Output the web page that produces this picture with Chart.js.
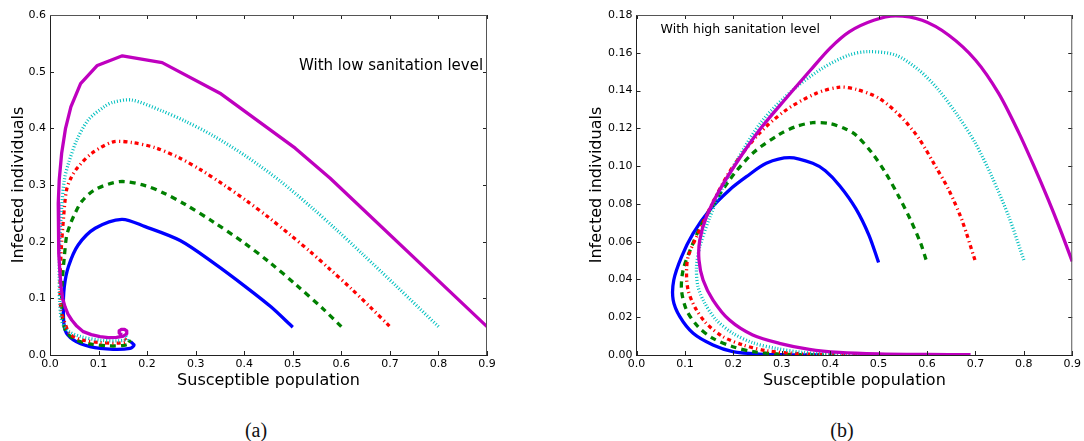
<!DOCTYPE html>
<html>
<head>
<meta charset="utf-8">
<script src="https://cdn.jsdelivr.net/npm/chart.js@4.4.1/dist/chart.umd.min.js"></script>
<style>
  body { margin: 0; background: #fff; width: 1084px; height: 441px; overflow: hidden; position: relative; }
  .box { position: absolute; top: 0; height: 390px; }
  .cap { position: absolute; top: 418px; font: 20px/24px "Liberation Serif", serif; color: #111; transform: translateX(-50%); }
</style>
</head>
<body>
<div class="box" style="left:0;width:500px"><canvas id="lowChart"></canvas></div>
<div class="box" style="left:540px;width:544px"><canvas id="highChart"></canvas></div>
<div class="cap" style="left:256px">(a)</div>
<div class="cap" style="left:842px">(b)</div>
<script>
var xTicks = [0, 0.1, 0.2, 0.3, 0.4, 0.5, 0.6, 0.7, 0.8, 0.9];
var lowYTicks = [0, 0.1, 0.2, 0.3, 0.4, 0.5, 0.6];
var highYTicks = [0, 0.02, 0.04, 0.06, 0.08, 0.10, 0.12, 0.14, 0.16, 0.18];

// (a) low sanitation level: [susceptible, infected], starting from S0 = 0.5 ... 0.9
var lowS05 = [[0.5,0.049],[0.455,0.085],[0.405,0.119],[0.336,0.163],[0.268,0.202],[0.196,0.2265],[0.148,0.2395],
  [0.093,0.2236],[0.058,0.194],[0.038,0.156],[0.0295,0.1206],[0.0275,0.0794],[0.031,0.044],[0.048,0.0265],
  [0.0824,0.0147],[0.13,0.010],[0.165,0.0118],[0.173,0.0176],[0.166,0.0235]];
var lowS06 = [[0.6,0.05],[0.563,0.081],[0.508,0.123],[0.453,0.163],[0.398,0.199],[0.336,0.235],[0.278,0.266],
  [0.236,0.285],[0.196,0.299],[0.144,0.306],[0.093,0.292],[0.065,0.2706],[0.0515,0.25],[0.041,0.229],[0.034,0.209],
  [0.0295,0.173],[0.0254,0.132],[0.024,0.091],[0.026,0.062],[0.034,0.04],[0.052,0.027],[0.085,0.019],
  [0.124,0.016],[0.152,0.017],[0.166,0.021],[0.162,0.026]];
var lowS07 = [[0.699,0.051],[0.659,0.085],[0.618,0.119],[0.577,0.151],[0.535,0.183],[0.494,0.2125],[0.45,0.243],
  [0.405,0.272],[0.36,0.299],[0.312,0.326],[0.266,0.348],[0.216,0.366],[0.168,0.375],[0.13,0.376],
  [0.086,0.356],[0.058,0.332],[0.0447,0.315],[0.034,0.291],[0.0275,0.238],[0.0227,0.179],[0.0206,0.1206],
  [0.0227,0.079],[0.031,0.056],[0.041,0.037],[0.065,0.027],[0.103,0.022],[0.137,0.021],[0.158,0.024],[0.154,0.029]];
var lowS08 = [[0.8,0.05],[0.714,0.121],[0.645,0.177],[0.59,0.221],[0.542,0.258],[0.474,0.307],[0.405,0.35],
  [0.336,0.387],[0.28,0.412],[0.23,0.431],[0.168,0.450],[0.13,0.446],[0.113,0.439],[0.079,0.415],[0.055,0.379],
  [0.038,0.338],[0.0295,0.309],[0.024,0.26],[0.02,0.2],[0.019,0.14],[0.02,0.09],[0.025,0.058],[0.038,0.042],
  [0.065,0.032],[0.105,0.026],[0.14,0.025],[0.16,0.028],[0.156,0.034]];
var lowS09 = [[0.9,0.05],[0.577,0.312],[0.505,0.365],[0.35,0.462],[0.231,0.516],[0.149,0.528],[0.0975,0.511],
  [0.063,0.479],[0.043,0.438],[0.032,0.400],[0.024,0.356],[0.019,0.309],[0.017,0.268],[0.0175,0.22],[0.0185,0.179],
  [0.0205,0.145],[0.0227,0.1206],[0.026,0.10],[0.031,0.085],[0.037,0.072],[0.0447,0.0618],[0.055,0.051],
  [0.0686,0.0412],[0.085,0.036],[0.103,0.0324],[0.12,0.0308],[0.137,0.0312],[0.151,0.0335],[0.158,0.0375],
  [0.158,0.0425],[0.1535,0.0452],[0.147,0.0453],[0.1427,0.0428],[0.1425,0.0388],[0.1455,0.0366],[0.149,0.0362]];

// (b) high sanitation level
var highS05 = [[0.5,0.049],[0.48,0.0635],[0.453,0.0775],[0.42,0.0895],[0.39,0.0975],[0.364,0.1015],[0.316,0.1045],
  [0.268,0.1015],[0.227,0.0944],[0.192,0.0874],[0.151,0.0768],[0.117,0.0644],[0.093,0.052],[0.077,0.0397],
  [0.0757,0.0291],[0.0895,0.0203],[0.117,0.0115],[0.158,0.0053],[0.199,0.0018],[0.254,0.0005],[0.32,0.0001],[0.38,0]];
var highS06 = [[0.598,0.0505],[0.587,0.0591],[0.566,0.0715],[0.542,0.0838],[0.515,0.0962],[0.487,0.1068],
  [0.453,0.1165],[0.433,0.1195],[0.40,0.1225],[0.364,0.123],[0.33,0.121],[0.295,0.1168],[0.24,0.1068],
  [0.192,0.0926],[0.1375,0.0706],[0.1136,0.0573],[0.0963,0.045],[0.093,0.0344],[0.1033,0.0238],[0.127,0.015],
  [0.158,0.0088],[0.199,0.0044],[0.24,0.0018],[0.295,0.0005],[0.36,0.0001],[0.42,0]];
var highS07 = [[0.699,0.0503],[0.672,0.0715],[0.645,0.0874],[0.618,0.0997],[0.583,0.1147],[0.546,0.1262],
  [0.501,0.1359],[0.453,0.1407],[0.42,0.1418],[0.371,0.1385],[0.309,0.1297],[0.254,0.1174],[0.199,0.0997],
  [0.16,0.082],[0.124,0.0626],[0.1066,0.052],[0.1033,0.0432],[0.1066,0.0344],[0.12,0.0256],[0.144,0.0168],
  [0.1786,0.0097],[0.22,0.0053],[0.268,0.0023],[0.323,0.0009],[0.39,0.0002],[0.46,0]];
var highS08 = [[0.8,0.0503],[0.769,0.0732],[0.734,0.0944],[0.7,0.1121],[0.665,0.1262],[0.624,0.1403],
  [0.583,0.1509],[0.535,0.1588],[0.48,0.1606],[0.439,0.1588],[0.384,0.1518],[0.323,0.1403],[0.261,0.1244],
  [0.213,0.1055],[0.175,0.087],[0.15,0.072],[0.1307,0.0573],[0.1239,0.0467],[0.127,0.0362],[0.141,0.0274],
  [0.165,0.0185],[0.199,0.0115],[0.24,0.0065],[0.288,0.0035],[0.343,0.0014],[0.42,0.0003],[0.52,0]];
var highS09 = [[0.9,0.0495],[0.875,0.0665],[0.85,0.0825],[0.82,0.1005],[0.789,0.118],[0.748,0.1385],
  [0.7,0.1562],[0.645,0.1693],[0.59,0.1772],[0.535,0.1795],[0.49,0.1772],[0.44,0.1712],[0.40,0.1625],
  [0.36,0.151],[0.309,0.1359],[0.254,0.1191],[0.206,0.1015],[0.1718,0.0874],[0.1445,0.0732],[0.1307,0.0609],[0.129,0.0503],
  [0.1375,0.0397],[0.158,0.0291],[0.192,0.0185],[0.24,0.0106],[0.295,0.0062],[0.357,0.003],[0.4187,0.0014],
  [0.5,0.0006],[0.6,0.0003],[0.69,0.0002]];

var lineStyles = [
  { color: '#0000ff', dash: [] },
  { color: '#008000', dash: [6, 5] },
  { color: '#ff0000', dash: [4, 3, 1.2, 3.4] },
  { color: '#00bfbf', dash: [1, 2] },
  { color: '#bf00bf', dash: [] }
];

function makeSets(curves, tensions) {
  var sets = curves.map(function(c, i) {
    return {
      data: c.map(function(p) { return { x: p[0], y: p[1] }; }),
      showLine: true,
      borderColor: lineStyles[i].color,
      borderDash: lineStyles[i].dash,
      borderWidth: 3.3,
      borderCapStyle: 'butt',
      borderJoinStyle: 'round',
      pointRadius: 0,
      tension: tensions[i]
    };
  });
  return sets.reverse(); // first dataset is drawn on top in Chart.js
}

var frameTicks = {
  id: 'frameTicks',
  afterDatasetsDraw: function(chart, args, opts) {
    var ctx = chart.ctx, a = chart.chartArea, xs = chart.scales.x, ys = chart.scales.y;
    ctx.save();
    ctx.strokeStyle = '#222';
    ctx.lineWidth = 1;
    ctx.beginPath();
    xs.ticks.forEach(function(t) {
      var p = Math.round(xs.getPixelForValue(t.value)) + 0.5;
      ctx.moveTo(p, a.bottom); ctx.lineTo(p, a.bottom - 4);
      ctx.moveTo(p, a.top); ctx.lineTo(p, a.top + 4);
    });
    ys.ticks.forEach(function(t) {
      var p = Math.round(ys.getPixelForValue(t.value)) + 0.5;
      ctx.moveTo(a.left, p); ctx.lineTo(a.left + 4, p);
      ctx.moveTo(a.right, p); ctx.lineTo(a.right - 4, p);
    });
    ctx.stroke();
    ctx.strokeStyle = '#555';
    ctx.beginPath();
    ctx.moveTo(a.left, a.top + 0.5); ctx.lineTo(a.right, a.top + 0.5);
    ctx.moveTo(a.right - 0.5, a.top); ctx.lineTo(a.right - 0.5, a.bottom);
    ctx.stroke();
    ctx.font = opts.size + 'px "DejaVu Sans"';
    ctx.fillStyle = '#000';
    ctx.textAlign = opts.align;
    ctx.textBaseline = 'middle';
    ctx.fillText(opts.text, xs.getPixelForValue(opts.x), ys.getPixelForValue(opts.y));
    ctx.restore();
  }
};

function buildChart(id, curves, tensions, yTicks, yDigits, yWidth, titlePad, padRight, note) {
  return new Chart(document.getElementById(id), {
    type: 'scatter',
    data: { datasets: makeSets(curves, tensions) },
    plugins: [frameTicks],
    options: {
      animation: false,
      responsive: true,
      maintainAspectRatio: false,
      layout: { padding: { left: 0, top: 15, right: padRight, bottom: 0 } },
      plugins: { legend: { display: false }, tooltip: { enabled: false }, frameTicks: note },
      scales: {
        x: {
          type: 'linear', min: 0, max: 0.9,
          afterBuildTicks: function(s) { s.ticks = xTicks.map(function(v) { return { value: v }; }); },
          afterFit: function(s) { s.height = 35; },
          grid: { display: false, drawTicks: false },
          border: { display: true, color: '#222', width: 1 },
          ticks: { autoSkip: false, maxRotation: 0, padding: 3, color: '#000',
            font: { family: 'DejaVu Sans', size: 11 },
            callback: function(v) { return Number(v).toFixed(1); } },
          title: { display: true, text: 'Susceptible population', color: '#000',
            font: { family: 'DejaVu Sans', size: 16 }, padding: { top: 0, bottom: 0 } }
        },
        y: {
          type: 'linear', min: 0, max: yTicks[yTicks.length - 1],
          afterBuildTicks: function(s) { s.ticks = yTicks.map(function(v) { return { value: v }; }); },
          afterFit: function(s) { s.width = yWidth; },
          grid: { display: false, drawTicks: false },
          border: { display: true, color: '#222', width: 1 },
          ticks: { autoSkip: false, padding: 4, color: '#000',
            font: { family: 'DejaVu Sans', size: 11 },
            callback: function(v) { return Number(v).toFixed(yDigits); } },
          title: { display: true, text: 'Infected individuals', color: '#000',
            font: { family: 'DejaVu Sans', size: 16 }, padding: { top: titlePad, bottom: 0 } }
        }
      }
    }
  });
}

buildChart('lowChart', [lowS05, lowS06, lowS07, lowS08, lowS09], [0.3, 0.3, 0.3, 0.3, 0],
  lowYTicks, 1, 50, 9.4, 13,
  { text: 'With low sanitation level', x: 0.892, y: 0.509, align: 'right', size: 15 });

buildChart('highChart', [highS05, highS06, highS07, highS08, highS09], [0.3, 0.3, 0.3, 0.3, 0.3],
  highYTicks, 2, 96.5, 47.4, 10,
  { text: 'With high sanitation level', x: 0.0498, y: 0.172, align: 'left', size: 12.5 });
</script>
</body>
</html>
